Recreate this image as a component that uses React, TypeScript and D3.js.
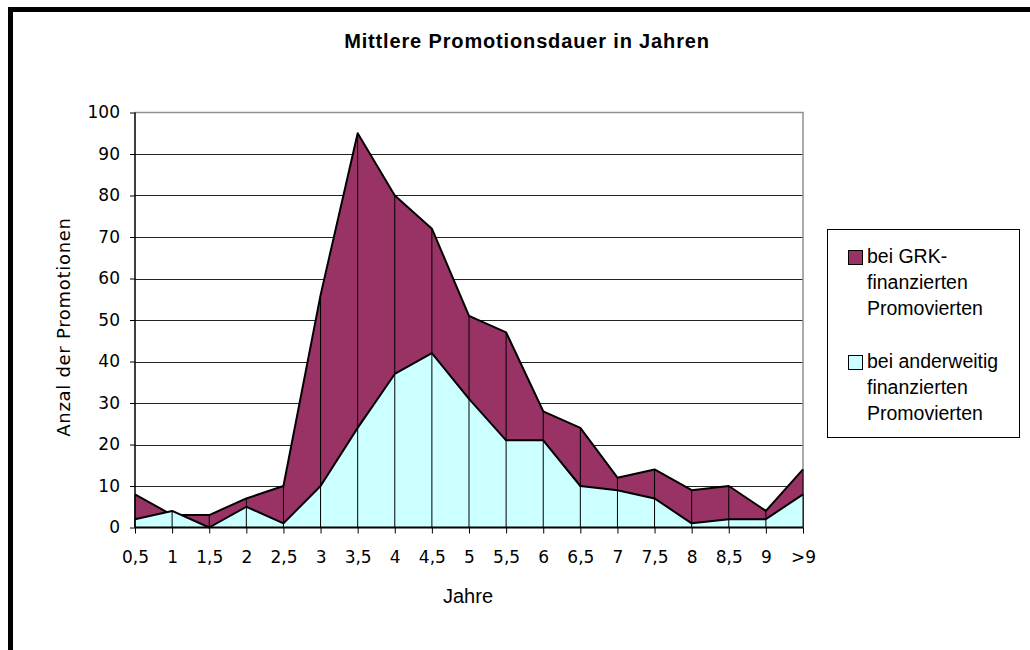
import { useEffect, useRef } from "react";
import * as d3 from "d3";

const categories = ["0,5", "1", "1,5", "2", "2,5", "3", "3,5", "4", "4,5", "5", "5,5", "6", "6,5", "7", "7,5", "8", "8,5", "9", ">9"];
const grkValues = [8, 3, 3, 7, 10, 56, 95, 80, 72, 51, 47, 28, 24, 12, 14, 9, 10, 4, 14];
const otherValues = [2, 4, 0, 5, 1, 10, 24, 37, 42, 31, 21, 21, 10, 9, 7, 1, 2, 2, 8];
const yTicks = [0, 10, 20, 30, 40, 50, 60, 70, 80, 90, 100];

const title = "Mittlere Promotionsdauer in Jahren";
const xTitle = "Jahre";
const yTitle = "Anzal der Promotionen";
const legendItems = [
  { lines: ["bei GRK-", "finanzierten", "Promovierten"], color: "#993366" },
  { lines: ["bei anderweitig", "finanzierten", "Promovierten"], color: "#CCFFFF" },
];

export default function App() {
  const svgRef = useRef<SVGSVGElement>(null);

  useEffect(() => {
    if (!svgRef.current) return;
    const root = d3.select(svgRef.current);
    root.selectAll("*").remove();

    const width = 1030;
    const height = 650;
    const plot = { left: 135, right: 803, top: 112.5, bottom: 527.5 };
    const arial = "'Liberation Sans', Arial, sans-serif";
    const wide = "'DejaVu Sans', sans-serif";

    root.attr("width", width).attr("height", height);

    // white background + outer frame (runs off the right/bottom edge)
    root.append("rect").attr("width", width).attr("height", height).attr("fill", "#fff");
    root
      .append("rect")
      .attr("x", 10.5)
      .attr("y", 9.5)
      .attr("width", 1100)
      .attr("height", 800)
      .attr("fill", "none")
      .attr("stroke", "#000")
      .attr("stroke-width", 5);

    const x = d3.scalePoint<string>().domain(categories).range([plot.left, plot.right]);
    const y = d3.scaleLinear().domain([0, 100]).range([plot.bottom, plot.top]);

    // gridlines
    root
      .append("g")
      .selectAll("line")
      .data(yTicks.filter((t) => t > 0 && t < 100))
      .enter()
      .append("line")
      .attr("x1", plot.left)
      .attr("x2", plot.right)
      .attr("y1", (d) => Math.round(y(d)) + 0.5)
      .attr("y2", (d) => Math.round(y(d)) + 0.5)
      .attr("stroke", "#222")
      .attr("stroke-width", 1);

    // plot area border (top / right)
    root
      .append("path")
      .attr("d", `M${plot.left},${plot.top}H${plot.right}V${plot.bottom}`)
      .attr("fill", "none")
      .attr("stroke", "#909090")
      .attr("stroke-width", 1.5);

    const area = d3
      .area<number>()
      .x((_, i) => x(categories[i]) as number)
      .y0(y(0))
      .y1((d) => y(d));
    const line = d3
      .line<number>()
      .x((_, i) => x(categories[i]) as number)
      .y((d) => y(d));

    const drawSeries = (values: number[], color: string) => {
      const g = root.append("g");
      g.append("path").datum(values).attr("d", area).attr("fill", color);
      g.selectAll("line")
        .data(values)
        .enter()
        .append("line")
        .attr("x1", (_, i) => x(categories[i]) as number)
        .attr("x2", (_, i) => x(categories[i]) as number)
        .attr("y1", (d) => y(d))
        .attr("y2", y(0))
        .attr("stroke", "#000")
        .attr("stroke-width", 1);
      g.append("path")
        .datum(values)
        .attr("d", line)
        .attr("fill", "none")
        .attr("stroke", "#000")
        .attr("stroke-width", 2)
        .attr("stroke-linejoin", "round");
    };
    drawSeries(grkValues, "#993366");
    drawSeries(otherValues, "#CCFFFF");

    // axes
    const xAxis = root
      .append("g")
      .attr("transform", `translate(0,${plot.bottom})`)
      .call(d3.axisBottom(x).tickSize(6).tickPadding(17));
    xAxis.select(".domain").attr("stroke", "#000").attr("stroke-width", 2).attr("d", `M${plot.left},0H${plot.right}`);
    xAxis.selectAll(".tick line").attr("stroke", "#000");
    xAxis
      .selectAll(".tick text")
      .attr("font-family", wide)
      .attr("font-size", 17)
      .attr("fill", "#000");

    const yAxis = root
      .append("g")
      .attr("transform", `translate(${plot.left},0)`)
      .call(d3.axisLeft(y).tickValues(yTicks).tickSize(5).tickPadding(10).tickFormat((d) => `${d}`));
    yAxis.select(".domain").attr("stroke", "#000").attr("stroke-width", 1.5).attr("d", `M0,${plot.top}V${plot.bottom}`);
    yAxis.selectAll(".tick line").attr("stroke", "#000");
    yAxis
      .selectAll(".tick text")
      .attr("font-family", wide)
      .attr("font-size", 17)
      .attr("fill", "#000");

    // titles
    root
      .append("text")
      .attr("x", 527)
      .attr("y", 48)
      .attr("text-anchor", "middle")
      .attr("font-family", arial)
      .attr("font-weight", "bold")
      .attr("font-size", 20)
      .attr("letter-spacing", 0.85)
      .text(title);

    root
      .append("text")
      .attr("x", 468)
      .attr("y", 603)
      .attr("text-anchor", "middle")
      .attr("font-family", arial)
      .attr("font-size", 20)
      .text(xTitle);

    root
      .append("text")
      .attr("transform", `translate(70,327) rotate(-90)`)
      .attr("text-anchor", "middle")
      .attr("font-family", wide)
      .attr("font-size", 18)
      .attr("letter-spacing", 0.7)
      .text(yTitle);

    // legend
    const legend = root.append("g");
    legend
      .append("rect")
      .attr("x", 827.5)
      .attr("y", 229.5)
      .attr("width", 192)
      .attr("height", 208)
      .attr("fill", "#fff")
      .attr("stroke", "#000")
      .attr("stroke-width", 1);

    legendItems.forEach((item, i) => {
      const top = 250 + i * 105;
      legend
        .append("rect")
        .attr("x", 848.5)
        .attr("y", top + 0.5)
        .attr("width", 14)
        .attr("height", 14)
        .attr("fill", item.color)
        .attr("stroke", "#000")
        .attr("stroke-width", 1);
      item.lines.forEach((txt, j) => {
        legend
          .append("text")
          .attr("x", 867)
          .attr("y", top + 13 + j * 26)
          .attr("font-family", arial)
          .attr("font-size", 19.5)
          .text(txt);
      });
    });
  }, []);

  return <svg ref={svgRef} style={{ position: "absolute", left: 0, top: 0, display: "block" }}></svg>;
}
